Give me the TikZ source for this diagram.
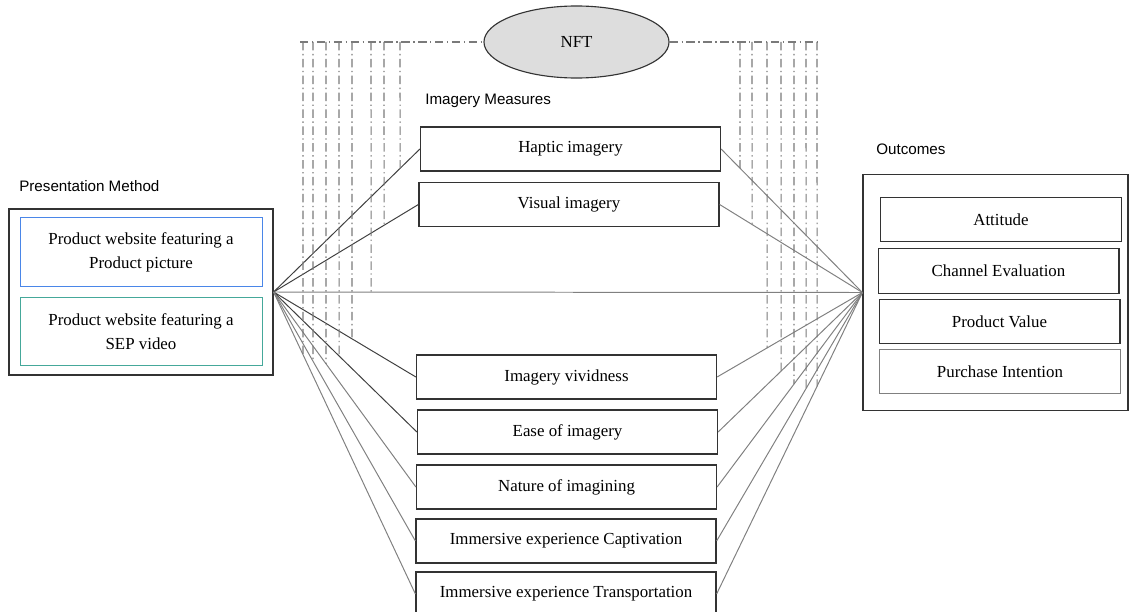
\documentclass[tikz,border=0pt]{standalone}
\usepackage{fontspec}
\setmainfont{Liberation Serif}
\newfontfamily\headfont{Liberation Sans}
\usetikzlibrary{shapes.geometric}
\definecolor{boxline}{HTML}{333333}
\definecolor{darkline}{HTML}{3F3F3F}
\definecolor{lightline}{HTML}{808080}
\definecolor{picblue}{HTML}{4A86E8}
\definecolor{septeal}{HTML}{45A89A}
\definecolor{nftfill}{HTML}{DDDDDD}
\definecolor{nftdash}{HTML}{7A7A7A}

\begin{document}
\begin{tikzpicture}[x=0.025cm,y=-0.025cm,
    measure/.style={draw=boxline,line width=0.8pt,minimum width=7.5cm,minimum height=1.1cm,inner sep=0pt,font=\fontsize{12}{14}\selectfont},
    outcome/.style={measure,minimum width=6.02cm,minimum height=1.12cm},
    method/.style={draw,line width=0.6pt,minimum width=6.05cm,minimum height=1.71cm,align=center,inner sep=0pt,font=\fontsize{12}{17}\selectfont},
    heading/.style={anchor=west,inner sep=0pt,font=\headfont\fontsize{10.8}{13}\selectfont},
    link/.style={lightline,line width=0.7pt},
    nftline/.style={nftdash,line width=0.75pt,dash pattern=on 6pt off 2.5pt on 1pt off 2.5pt}]
    \useasboundingbox (0,0) rectangle (1129,611);

    % presentation method
    \node[heading] (pmhead) at (19,186) {Presentation Method};
    \node[draw=boxline,line width=0.8pt,minimum width=6.6cm,minimum height=4.15cm] (method) at (141,292) {};
    \node[method,draw=picblue] (pic) at (141,252) {Product website featuring a\\Product picture};
    \node[method,draw=septeal] (sep) at (141,331.5) {Product website featuring a\\SEP video};

    % imagery measures
    \node[heading] (imhead) at (425,101) {Imagery Measures};
    \node[measure] (haptic) at (570.5,149) {Haptic imagery};
    \node[measure] (visual) at (569,204.5) {Visual imagery};
    \node[measure] (vivid) at (566.5,377) {Imagery vividness};
    \node[measure] (ease) at (567.5,432) {Ease of imagery};
    \node[measure] (nature) at (566.5,487) {Nature of imagining};
    \node[measure] (capt) at (566,541) {Immersive experience Captivation};
    \node[measure] (trans) at (566,594) {Immersive experience Transportation};

    % outcomes
    \node[heading] (ochead) at (876,149) {Outcomes};
    \node[draw=boxline,line width=0.8pt,minimum width=6.625cm,minimum height=5.9cm] (outbox) at (995.5,292.5) {};
    \node[outcome] (att) at (1001,219.5) {Attitude};
    \node[outcome] (chan) at (998.5,271) {Channel Evaluation};
    \node[outcome] (pval) at (999.5,321.5) {Product Value};
    \node[outcome,draw=lightline] (pint) at (1000,371.5) {Purchase Intention};

    \coordinate (lhub) at (method.east);
    \coordinate (rhub) at (outbox.west);

    % paths
    \foreach \m in {haptic,visual,vivid,ease}
        \draw[darkline,line width=0.7pt] (lhub) -- (\m.west);
    \foreach \m in {nature,capt,trans}
        \draw[link] (lhub) -- (\m.west);
    \draw[link] (lhub) -- (rhub);
    \foreach \m in {haptic,visual,vivid,ease,nature,capt,trans}
        \draw[link] (\m.east) -- (rhub);

    % NFT moderator
    \node[ellipse,draw=boxline,fill=nftfill,line width=0.8pt,minimum width=4.625cm,minimum height=1.8cm,inner sep=0pt,font=\fontsize{12}{14}\selectfont] (nft) at (576.5,42) {NFT};
    \draw[nftline] (300,42) -- (nft.west);
    \draw[nftline] (nft.east) -- (820,42);
    \foreach \xx/\a/\b in {303/lhub/trans.west,313/lhub/capt.west,326/lhub/nature.west,339/lhub/ease.west,352/lhub/vivid.west,371/lhub/rhub,384/lhub/visual.west,400/lhub/haptic.west,
                          740/rhub/haptic.east,752/rhub/visual.east,767/rhub/vivid.east,781/rhub/ease.east,794/rhub/nature.east,806/rhub/capt.east,817/rhub/trans.east} {
        \coordinate (top) at (\xx,42);
        \coordinate (bot) at (\xx,600);
        \draw[nftline] (top) -- (intersection of top--bot and \a--\b);
    }
\end{tikzpicture}
\end{document}
